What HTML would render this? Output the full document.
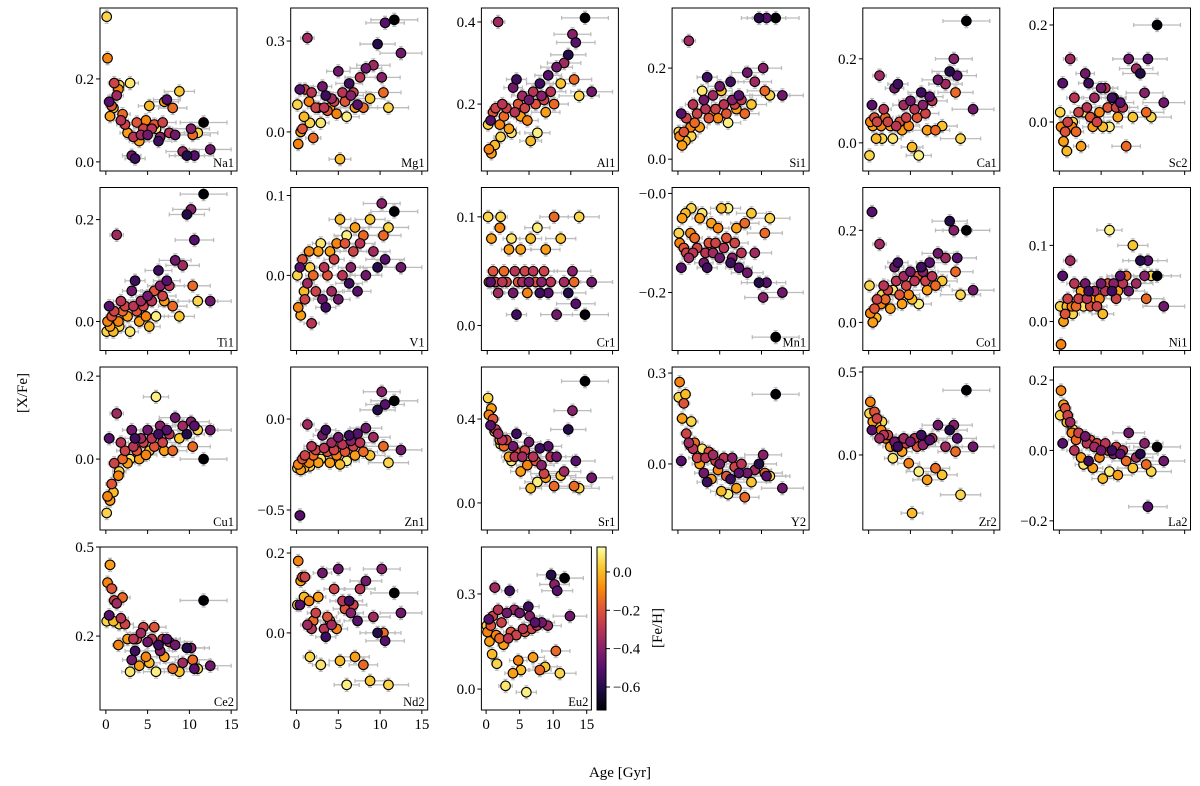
<!DOCTYPE html>
<html><head><meta charset="utf-8"><style>
html,body{margin:0;padding:0;background:#fff;}
svg{display:block;font-family:"Liberation Serif",serif;}
</style></head><body>
<svg id="chart" width="1200" height="786" viewBox="0 0 1200 786"></svg>
<script>
const ages=[0.1,0.2,0.4,0.5,0.7,0.9,1.0,1.3,1.5,1.6,1.8,2.0,2.3,2.6,2.9,3.1,3.3,3.5,3.7,4.0,4.2,4.5,4.8,5.0,5.2,5.5,5.8,6.0,6.3,6.5,6.8,7.0,7.3,7.6,8.0,8.3,8.8,9.2,9.7,10.2,10.4,10.6,11.0,11.7,12.5];
const ageErr=[0.5,0.5,0.6,0.6,0.7,0.6,0.7,0.8,0.7,0.8,0.9,0.9,1.0,0.9,1.0,1.1,1.0,1.2,1.1,1.2,1.3,1.2,1.3,1.4,1.3,1.5,1.4,1.5,1.6,1.5,1.6,1.7,1.6,1.8,1.7,1.9,1.8,2.0,2.1,2.2,2.1,2.3,2.4,2.8,2.5];
const feh=[0.05,-0.1,-0.5,-0.05,-0.2,0.0,-0.25,-0.35,-0.1,0.05,-0.3,-0.15,-0.25,-0.05,0.08,-0.45,-0.3,-0.55,-0.2,-0.05,-0.35,-0.25,-0.1,-0.45,0.0,-0.3,-0.2,0.1,-0.55,-0.4,-0.25,-0.05,-0.5,-0.3,-0.15,-0.45,0.02,-0.35,-0.6,-0.4,-0.15,-0.5,0.05,-0.72,-0.45];
const Na1=[0.35,0.25,0.145,0.11,0.135,0.13,0.19,0.16,0.175,0.185,0.10,0.115,0.09,0.07,0.19,0.015,0.06,0.008,0.095,0.05,0.065,0.08,0.10,0.065,0.135,0.08,0.09,0.08,0.05,0.06,0.095,0.145,0.15,0.07,0.13,0.065,0.17,0.025,0.015,0.08,0.065,0.015,0.07,0.095,0.03];
const Mg1=[0.09,-0.04,0.14,0.0,0.01,0.05,0.14,0.31,0.10,0.03,0.13,-0.02,0.08,0.08,0.03,0.15,0.08,0.12,0.07,0.08,0.11,0.10,0.06,0.20,-0.09,0.13,0.10,0.05,0.16,0.12,0.13,0.08,0.09,0.18,0.08,0.21,0.11,0.22,0.29,0.18,0.13,0.36,0.08,0.37,0.26];
const Al1=[0.15,0.09,0.16,0.08,0.18,0.10,0.19,0.40,0.15,0.12,0.20,0.17,0.19,0.14,0.13,0.24,0.18,0.26,0.20,0.17,0.22,0.19,0.16,0.21,0.11,0.23,0.20,0.13,0.25,0.22,0.21,0.18,0.27,0.23,0.20,0.29,0.25,0.30,0.32,0.37,0.26,0.35,0.22,0.41,0.23];
const Si1=[0.06,0.05,0.10,0.03,0.06,0.04,0.09,0.26,0.07,0.05,0.12,0.08,0.10,0.07,0.15,0.13,0.11,0.18,0.09,0.10,0.14,0.11,0.09,0.16,0.15,0.12,0.10,0.08,0.17,0.13,0.12,0.11,0.14,0.13,0.10,0.19,0.12,0.17,0.31,0.20,0.15,0.31,0.14,0.31,0.14];
const Ca1=[-0.03,0.05,0.09,0.04,0.06,0.01,0.05,0.16,0.04,0.01,0.08,0.06,0.05,0.04,0.01,0.13,0.04,0.14,0.05,0.03,0.09,0.06,0.04,0.10,-0.01,0.08,0.06,-0.03,0.12,0.09,0.07,0.03,0.11,0.10,0.03,0.15,0.04,0.14,0.17,0.20,0.12,0.16,0.01,0.29,0.08];
const Sc2=[0.02,-0.01,0.08,-0.04,-0.02,-0.06,0.0,0.13,-0.01,0.0,0.05,-0.02,0.02,-0.05,0.02,0.10,0.03,0.08,0.01,-0.01,0.05,0.0,0.02,0.07,-0.01,0.07,0.03,-0.01,0.05,0.05,0.03,0.01,0.04,0.03,-0.05,0.13,0.01,0.11,0.10,0.06,0.02,0.13,0.01,0.20,0.04];
const Ti1=[-0.02,0.0,0.03,-0.01,0.01,-0.02,0.02,0.17,0.0,-0.01,0.04,0.02,0.03,0.01,-0.02,0.06,0.03,0.08,0.02,0.0,0.04,0.03,0.01,0.05,-0.01,0.04,0.06,0.01,0.10,0.07,0.05,0.04,0.08,0.07,0.03,0.12,0.01,0.11,0.21,0.22,0.07,0.16,0.04,0.25,0.04];
const V1=[0.0,-0.04,0.01,-0.05,0.02,-0.02,-0.03,-0.01,0.03,0.01,-0.06,0.0,-0.02,0.03,0.04,-0.03,0.01,-0.04,0.0,0.03,-0.02,0.02,0.04,-0.03,0.07,0.0,0.04,0.05,-0.01,0.01,0.03,0.06,-0.02,0.04,0.05,0.0,0.07,0.03,0.01,0.09,0.05,0.02,0.06,0.08,0.01];
const Cr1=[0.10,0.04,0.04,0.08,0.05,0.04,0.04,0.03,0.09,0.10,0.04,0.05,0.04,0.07,0.08,0.03,0.05,0.01,0.04,0.07,0.04,0.05,0.03,0.04,0.08,0.05,0.04,0.09,0.03,0.04,0.05,0.07,0.03,0.04,0.10,0.01,0.08,0.04,0.03,0.05,0.04,0.02,0.10,0.01,0.04];
const Mn1=[-0.08,-0.10,-0.15,-0.05,-0.11,-0.04,-0.12,-0.13,-0.08,-0.03,-0.12,-0.09,-0.11,-0.05,-0.04,-0.14,-0.12,-0.15,-0.10,-0.06,-0.12,-0.10,-0.07,-0.13,-0.03,-0.11,-0.09,-0.03,-0.14,-0.13,-0.10,-0.07,-0.15,-0.12,-0.06,-0.16,-0.04,-0.12,-0.18,-0.21,-0.08,-0.18,-0.05,-0.29,-0.20];
const Co1=[0.08,0.02,0.24,0.0,0.03,0.01,0.05,0.17,0.04,0.06,0.08,0.05,0.07,0.03,0.07,0.12,0.09,0.13,0.06,0.04,0.10,0.08,0.06,0.11,0.05,0.09,0.10,0.04,0.12,0.11,0.09,0.07,0.13,0.10,0.08,0.15,0.09,0.14,0.22,0.20,0.11,0.14,0.06,0.20,0.07];
const Ni1=[0.02,-0.03,0.06,0.0,0.01,0.02,0.03,0.08,0.02,0.01,0.05,0.02,0.03,0.04,0.02,0.05,0.03,0.04,0.02,0.03,0.04,0.02,0.03,0.05,0.01,0.04,0.05,0.12,0.04,0.05,0.03,0.04,0.06,0.05,0.06,0.04,0.10,0.05,0.08,0.06,0.03,0.08,0.06,0.06,0.02];
const Cu1=[-0.13,-0.09,0.05,-0.10,-0.06,-0.08,-0.01,0.11,-0.04,-0.03,0.04,0.0,0.02,-0.01,0.0,0.07,0.03,0.05,0.02,0.0,0.05,0.04,0.01,0.07,0.02,0.05,0.03,0.15,0.06,0.08,0.04,0.02,0.07,0.06,0.02,0.10,0.05,0.08,0.06,0.09,0.03,0.08,0.07,0.0,0.07];
const Zn1=[-0.27,-0.25,-0.53,-0.28,-0.22,-0.27,-0.20,-0.03,-0.24,-0.26,-0.15,-0.20,-0.17,-0.24,-0.22,-0.09,-0.16,-0.06,-0.18,-0.24,-0.13,-0.17,-0.20,-0.10,-0.25,-0.14,-0.18,-0.23,-0.09,-0.12,-0.15,-0.20,-0.08,-0.13,-0.18,-0.05,-0.20,-0.10,0.05,0.15,-0.15,0.08,-0.24,0.10,-0.17];
const Sr1=[0.50,0.42,0.37,0.45,0.40,0.34,0.35,0.33,0.30,0.28,0.30,0.27,0.30,0.22,0.20,0.27,0.22,0.33,0.24,0.15,0.22,0.25,0.18,0.29,0.07,0.22,0.20,0.10,0.26,0.18,0.14,0.12,0.27,0.22,0.08,0.22,0.13,0.15,0.35,0.44,0.08,0.20,0.07,0.58,0.12];
const Y2=[0.22,0.27,0.01,0.15,0.20,0.23,0.10,0.07,0.06,0.14,0.05,0.07,0.02,0.0,0.05,-0.03,0.02,-0.06,0.04,-0.05,0.03,0.01,-0.02,0.0,-0.09,0.02,-0.04,-0.10,-0.05,0.02,-0.01,-0.08,-0.03,0.0,-0.11,-0.03,-0.06,-0.02,0.0,0.03,-0.03,-0.04,-0.04,0.23,-0.08];
const Zr2=[0.25,0.32,0.15,0.20,0.26,0.18,0.22,0.10,0.15,0.20,0.12,0.10,0.12,0.05,-0.02,0.08,0.05,0.05,0.08,0.02,0.10,0.07,-0.05,0.08,-0.35,0.10,0.05,-0.10,0.12,0.06,0.08,-0.15,0.09,0.10,-0.08,0.18,-0.12,0.05,0.15,0.18,0.02,0.10,-0.24,0.39,0.05];
const La2=[0.10,0.17,0.02,0.13,0.12,0.08,0.10,0.08,0.05,0.06,0.0,0.03,0.05,-0.02,-0.04,0.04,0.02,-0.03,0.03,-0.05,0.01,0.02,-0.02,0.0,-0.08,0.02,0.0,-0.06,0.0,-0.01,0.01,-0.07,-0.01,0.0,-0.03,0.05,-0.05,-0.02,-0.01,0.02,-0.04,-0.16,-0.06,0.01,-0.03];
const Ce2=[0.25,0.38,0.27,0.44,0.36,0.25,0.32,0.31,0.17,0.24,0.26,0.33,0.24,0.19,0.08,0.12,0.19,0.15,0.19,0.10,0.21,0.23,0.13,0.18,0.11,0.19,0.23,0.08,0.17,0.15,0.19,0.13,0.19,0.18,0.09,0.17,0.08,0.11,0.16,0.16,0.12,0.09,0.09,0.32,0.10];
const Nd2=[0.07,0.18,0.07,0.13,0.14,0.09,0.14,0.02,0.08,-0.06,0.01,0.03,0.05,0.09,-0.08,0.15,0.01,-0.01,0.04,0.03,0.02,0.11,0.01,0.16,-0.07,0.08,0.06,-0.13,0.08,0.05,0.07,-0.06,0.03,0.11,-0.08,0.13,-0.12,0.04,0.0,0.16,0.0,-0.02,-0.13,0.10,0.05];
const Eu2=[0.20,0.18,0.22,0.15,0.20,0.11,0.23,0.32,0.17,0.08,0.25,0.16,0.21,0.14,0.01,0.24,0.16,0.31,0.18,0.05,0.25,0.17,0.09,0.24,0.06,0.19,0.18,-0.01,0.26,0.23,0.19,0.10,0.21,0.20,0.06,0.21,0.07,0.20,0.36,0.33,0.12,0.31,0.05,0.35,0.23];
const xTicks=[0,5,10,15];
const cbTicks=[0.0,-0.2,-0.4,-0.6];

const panels=[
 {n:'Na1',v:Na1,y:[-0.022,0.371],t:[0,0.2]},
 {n:'Mg1',v:Mg1,y:[-0.129,0.409],t:[0,0.3]},
 {n:'Al1',v:Al1,y:[0.037,0.434],t:[0.2,0.4]},
 {n:'Si1',v:Si1,y:[-0.026,0.332],t:[0,0.2]},
 {n:'Ca1',v:Ca1,y:[-0.067,0.321],t:[0,0.2]},
 {n:'Sc2',v:Sc2,y:[-0.101,0.235],t:[0,0.2]},
 {n:'Ti1',v:Ti1,y:[-0.057,0.263],t:[0,0.2]},
 {n:'V1',v:V1,y:[-0.094,0.11],t:[0,0.1]},
 {n:'Cr1',v:Cr1,y:[-0.023,0.127],t:[0,0.1]},
 {n:'Mn1',v:Mn1,y:[-0.317,0.012],t:[0,-0.2],neg0:true},
 {n:'Co1',v:Co1,y:[-0.061,0.293],t:[0,0.2]},
 {n:'Ni1',v:Ni1,y:[-0.038,0.176],t:[0,0.1]},
 {n:'Cu1',v:Cu1,y:[-0.171,0.222],t:[0,0.2]},
 {n:'Zn1',v:Zn1,y:[-0.61,0.286],t:[0,-0.5]},
 {n:'Sr1',v:Sr1,y:[-0.129,0.648],t:[0,0.4]},
 {n:'Y2',v:Y2,y:[-0.218,0.32],t:[0,0.3]},
 {n:'Zr2',v:Zr2,y:[-0.452,0.53],t:[0,0.5]},
 {n:'La2',v:La2,y:[-0.226,0.237],t:[-0.2,0,0.2]},
 {n:'Ce2',v:Ce2,y:[-0.049,0.5],t:[0.2,0.5]},
 {n:'Nd2',v:Nd2,y:[-0.193,0.215],t:[0,0.2]},
 {n:'Eu2',v:Eu2,y:[-0.066,0.448],t:[0,0.3]}
];
const NS='http://www.w3.org/2000/svg';
const svg=document.getElementById('chart');
function mk(tag,attrs,parent){const e=document.createElementNS(NS,tag);for(const k in attrs)e.setAttribute(k,attrs[k]);(parent||svg).appendChild(e);return e;}
const inf=[[0,0,0,4],[0.13,31,12,72],[0.25,85,15,109],[0.38,136,34,106],[0.5,186,54,85],[0.63,227,89,51],[0.75,249,140,10],[0.88,249,201,50],[1,252,255,164]];
function cmap(t){t=Math.max(0,Math.min(1,t));for(let i=1;i<inf.length;i++){if(t<=inf[i][0]){const a=inf[i-1],b=inf[i],f=(t-a[0])/(b[0]-a[0]);return `rgb(${Math.round(a[1]+f*(b[1]-a[1]))},${Math.round(a[2]+f*(b[2]-a[2]))},${Math.round(a[3]+f*(b[3]-a[3]))})`;}}return 'rgb(252,255,164)';}
const fmin=-0.72,fmax=0.13;
function fmt(v){let s=v.toFixed(1);if(v<0)s='−'+s.slice(1);return s;}
const X0=[100,290.7,481.4,672.1,862.8,1053.5],Y0=[8,187.5,367,547];
panels.forEach((p,idx)=>{
  const r=Math.floor(idx/6),c=idx%6;
  const bx=X0[c],by=Y0[r],bw=(idx===20)?110:137,bh=163;
  const g=mk('g',{});
  
  
  const xs=a=>bx+(a+0.7)/16.4*bw;
  const ys=v=>by+bh-(v-p.y[0])/(p.y[1]-p.y[0])*bh;
  const clip='c'+idx;
  const cp=mk('clipPath',{id:clip},g);mk('rect',{x:bx,y:by,width:bw,height:bh},cp);
  const eg=mk('g',{'clip-path':`url(#${clip})`},g);
  
  
  const yerr=(p.y[1]-p.y[0])*0.04;
  const order=ages.map((_,i)=>i).sort((a,b)=>feh[b]-feh[a]);
  ages.forEach((a,i)=>{
    const x=xs(a),y=ys(p.v[i]),xe=ageErr[i]/16.4*bw,ye=yerr/(p.y[1]-p.y[0])*bh;
    mk('path',{d:`M${x-xe},${y}H${x+xe}M${x-xe},${y-2}V${y+2}M${x+xe},${y-2}V${y+2}M${x},${y-ye}V${y+ye}M${x-2},${y-ye}H${x+2}M${x-2},${y+ye}H${x+2}`,stroke:'#bcbcbc','stroke-width':1.3,fill:'none'},eg);
  });
  const pg=mk('g',{'clip-path':`url(#${clip})`},g);
  order.forEach(i=>{
    const cc=mk('circle',{cx:xs(ages[i]),cy:ys(p.v[i]),r:4.8,fill:cmap((feh[i]-fmin)/(fmax-fmin)),stroke:'#000','stroke-width':1.1},pg);
    
    
  });
  const fr=mk('rect',{x:bx,y:by,width:bw,height:bh,fill:'none',stroke:'#000','stroke-width':1},g);
  
  
  xTicks.forEach(t=>{
    const x=xs(t);mk('line',{x1:x,x2:x,y1:by+bh,y2:by+bh+4,stroke:'#000','stroke-width':1},g);
    if(r===3||idx>=18){const tl=mk('text',{x:x,y:by+bh+19,'text-anchor':'middle','font-size':15},g);tl.textContent=t;
      
      }
  });
  p.t.forEach(t=>{
    const y=ys(t);mk('line',{x1:bx-4,x2:bx,y1:y,y2:y,stroke:'#000','stroke-width':1},g);
    const tl=mk('text',{x:bx-6,y:y+5,'text-anchor':'end','font-size':15},g);
    tl.textContent=(p.neg0&&t===0)?'−0.0':fmt(t);
    
    
  });
  const lb=mk('text',{x:bx+bw-3,y:by+bh-4,'text-anchor':'end','font-size':12.5},g);
  lb.textContent=p.n;
  
  
});
const cb=mk('g',{});


const defs=mk('defs',{},cb);
const lg=mk('linearGradient',{id:'cbg',x1:0,y1:1,x2:0,y2:0},defs);
inf.forEach(s=>mk('stop',{offset:s[0],'stop-color':`rgb(${s[1]},${s[2]},${s[3]})`},lg));
const cbx=597,cby=547,cbw=9,cbh=163;
mk('rect',{x:cbx,y:cby,width:cbw,height:cbh,fill:'url(#cbg)',stroke:'#000','stroke-width':1},cb);
cbTicks.forEach(t=>{
  const y=cby+cbh-(t-fmin)/(fmax-fmin)*cbh;
  mk('line',{x1:cbx+cbw,x2:cbx+cbw+4,y1:y,y2:y,stroke:'#000'},cb);
  const tl=mk('text',{x:cbx+cbw+7,y:y+5,'font-size':15},cb);tl.textContent=fmt(t);
  
  
});
const cl=mk('text',{x:0,y:0,'font-size':15,'text-anchor':'middle',transform:'translate(662,628) rotate(-90)'},cb);cl.textContent='[Fe/H]';


const yt=mk('text',{x:0,y:0,'font-size':15,'text-anchor':'middle',transform:'translate(27,393) rotate(-90)'});yt.textContent='[X/Fe]';


const xt=mk('text',{x:620,y:777,'font-size':15,'text-anchor':'middle'});xt.textContent='Age [Gyr]';


</script>
</body></html>
